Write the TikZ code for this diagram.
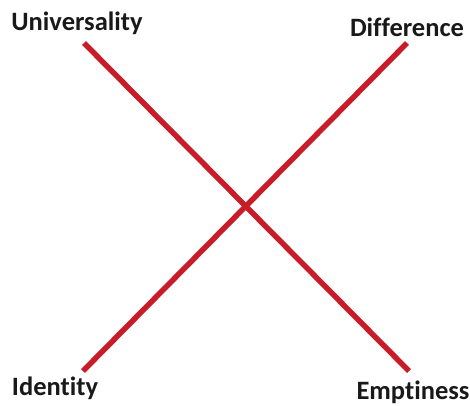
\documentclass[tikz,border=0pt]{standalone}
\usepackage{fontspec}
\setmainfont{Carlito}[Ligatures=NoCommon]
\definecolor{crossred}{RGB}{200,28,40}
\tikzset{
  corner/.style={font=\fontsize{26.5}{30}\selectfont\bfseries, text=black!90, inner sep=0pt},
  xline/.style={crossred, line width=5.5pt, line cap=butt}
}
\begin{document}
\begin{tikzpicture}[x=1pt,y=-1pt]
        \useasboundingbox (0,0) rectangle (470,405);

        % Labels
        \node[corner] (univ) at (77,23) {Universality};
        \node[corner] (diff) at (407,27) {Difference};
        \node[corner] (iden) at (55,388) {Identity};
        \node[corner] (empt) at (413,392) {Emptiness};

        % Line ends
        \coordinate (u) at (84,43);
        \coordinate (d) at (407,43);
        \coordinate (i) at (83,371);
        \coordinate (e) at (409,371);

        % Cross
        \draw[xline] (u) -- (e);
        \draw[xline] (d) -- (i);

\end{tikzpicture}
\end{document}
